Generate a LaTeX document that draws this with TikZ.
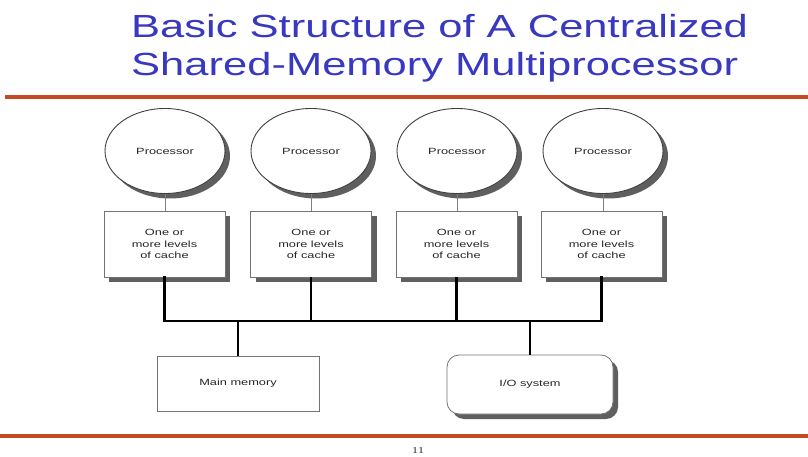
\documentclass[tikz,border=0pt]{standalone}
\usepackage{fontspec}
\setmainfont{Liberation Sans}
\newfontfamily\pagefont{Liberation Serif}
\usetikzlibrary{shapes.geometric,shadows}
\definecolor{titleblue}{RGB}{56,56,192}
\definecolor{rulered}{RGB}{196,74,34}
\definecolor{shadowgray}{RGB}{95,95,95}
\newcommand{\wtitle}[1]{\scalebox{1.36}[1]{#1}}
\newcommand{\wsmall}[1]{\scalebox{1.42}[1]{#1}}
\begin{document}
\begin{tikzpicture}[x=1pt,y=-1pt,
  titletext/.style={anchor=base west,inner sep=0,text=titleblue,font=\fontsize{32}{36}\selectfont},
  redrule/.style={draw=rulered,line width=3.5pt},
  myshadow/.style={drop shadow={shadow xshift=5pt,shadow yshift=-5pt,fill=shadowgray,opacity=1}},
  proc/.style={ellipse,draw=black!75,line width=0.9pt,fill=white,minimum width=120pt,minimum height=85pt,inner sep=0,myshadow,font=\fontsize{9}{10}\selectfont,text=black!85},
  cachebox/.style={rectangle,draw=black!55,line width=0.8pt,fill=white,minimum width=121pt,minimum height=66pt,inner sep=0,myshadow,align=center,font=\fontsize{9}{11.5}\selectfont,text=black!85},
  membox/.style={rectangle,draw=black!55,line width=0.8pt,fill=white,minimum width=162pt,minimum height=55pt,inner sep=0,font=\fontsize{9}{10}\selectfont,text=black!85},
  iobox/.style={rectangle,rounded corners=12pt,draw=black!55,line width=0.8pt,fill=white,minimum width=166pt,minimum height=59pt,inner sep=0,myshadow,font=\fontsize{9}{10}\selectfont,text=black!85},
  thinlink/.style={draw=black!50,line width=0.8pt},
  buslink/.style={draw=black,line width=2.2pt}
]
\fill[white] (0,0) rectangle (808,457);
\useasboundingbox (0,0) rectangle (808,457);

\node[titletext] (t1) at (131,38) {\wtitle{Basic Structure of A Centralized}};
\node[titletext] (t2) at (131,76) {\wtitle{Shared-Memory Multiprocessor}};

\coordinate (r1a) at (5,97);
\coordinate (r1b) at (808,97);
\draw[redrule] (r1a) -- (r1b);
\coordinate (r2a) at (0,436);
\coordinate (r2b) at (808,436);
\draw[redrule] (r2a) -- (r2b);

\node[proc] (p1) at (165,151) {\wsmall{Processor}};
\node[proc] (p2) at (311,151) {\wsmall{Processor}};
\node[proc] (p3) at (457,151) {\wsmall{Processor}};
\node[proc] (p4) at (603,151) {\wsmall{Processor}};

\node[cachebox] (c1) at (164.5,244) {\wsmall{One or}\\\wsmall{more levels}\\\wsmall{of cache}};
\node[cachebox] (c2) at (311,244) {\wsmall{One or}\\\wsmall{more levels}\\\wsmall{of cache}};
\node[cachebox] (c3) at (456.5,244) {\wsmall{One or}\\\wsmall{more levels}\\\wsmall{of cache}};
\node[cachebox] (c4) at (601.5,244) {\wsmall{One or}\\\wsmall{more levels}\\\wsmall{of cache}};

\foreach \i in {1,...,4} {
  \draw[thinlink] (p\i.south) -- (c\i.north -| p\i.south);
}

\node[membox] (mem) at (238,383.5) {\wsmall{Main memory}};
\node[iobox] (io) at (530,384.5) {\wsmall{I/O system}};

\coordinate (busL) at (164.5,321);
\coordinate (busR) at (601.5,321);
\draw[buslink,line cap=rect] (c1.south) -- (busL) -- (busR) -- (c4.south);
\draw[buslink] (c2.south) -- (c2.south |- busL);
\draw[buslink] (c3.south) -- (c3.south |- busL);
\draw[buslink] (mem.north) -- (mem.north |- busL);
\draw[buslink] (io.north) -- (io.north |- busL);

\node[font=\pagefont\fontsize{9}{10}\selectfont,text=black!80] (pg) at (418,451) {\wsmall{11}};
\end{tikzpicture}
\end{document}
